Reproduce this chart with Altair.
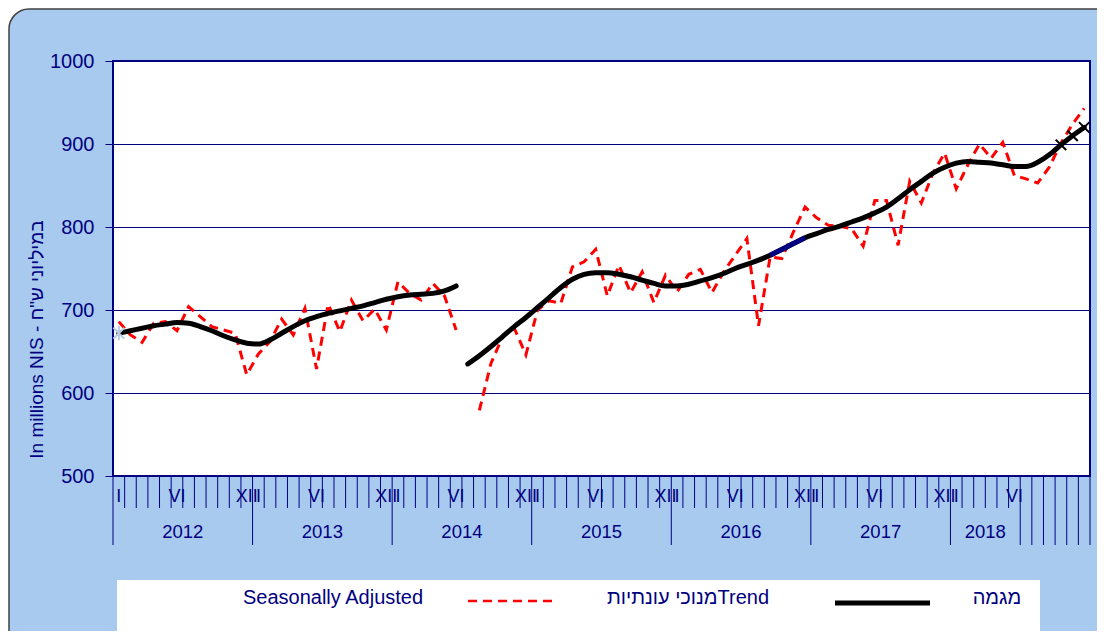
import altair as alt
import pandas as pd

NAVY = "#000080"
FONT = "Liberation Sans"

# ---------------- data ----------------
years = [2012, 2013, 2014, 2015, 2016, 2017, 2018]
roman = {0: "I", 5: "VI", 11: "XII"}
n_months = 84  # Jan 2012 .. Dec 2018

# Seasonally adjusted (red dashed), two segments (series break in 2014)
sa_a = [686, 670, 661, 684, 686, 675, 704, 692, 680, 676, 672, 622, 647, 662, 689,
        670, 702, 629, 707, 674, 712, 687, 701, 676, 734, 720, 712, 732, 717, 676]   # i=0..29
sa_b = [579, 636, 668, 678, 646, 700, 711, 708, 752, 758, 773, 717, 754, 721, 746,
        709, 742, 722, 743, 749, 721, 746, 766, 786, 681, 764, 762, 794, 824, 811,
        802, 801, 798, 777, 832, 832, 778, 855, 829, 865, 889, 846, 875, 900, 883,
        902, 862, 858, 853, 872, 901, 924, 943]                                       # i=31..83

# Trend (black), two segments
trend_a = [672, 675, 678, 681, 683, 685, 684, 680, 675, 669, 664, 660, 659, 664, 672,
           680, 687, 692, 696, 699, 702, 705, 709, 713, 716, 718, 719, 720, 723, 729]  # i=0..29
trend_b = [635, 645, 656, 668, 680, 691, 703, 715, 727, 737, 743, 745, 745, 743, 740,
           736, 732, 729, 729, 731, 735, 739, 744, 750, 755, 760, 766, 773, 780, 787,
           792, 797, 801, 806, 811, 817, 824, 834, 845, 855, 865, 872, 877, 879, 878,
           877, 875, 873, 873, 878, 887, 899, 910, 920]                                 # i=30..83

y_ticks = [500, 600, 700, 800, 900, 1000]

legend_sa = "Seasonally Adjusted"
legend_mid = "מנוכי עונתיותTrend"
legend_trend = "מגמה"
y_title = 'In millions NIS - במיליוני ש"ח'

# ---------------- tables ----------------
sa_df = pd.DataFrame(
    [{"i": k, "v": v, "seg": "a"} for k, v in enumerate(sa_a)]
    + [{"i": 31 + k, "v": v, "seg": "b"} for k, v in enumerate(sa_b)]
)
tr_df = pd.DataFrame(
    [{"i": k, "v": v, "seg": "a"} for k, v in enumerate(trend_a)]
    + [{"i": 30 + k, "v": v, "seg": "b"} for k, v in enumerate(trend_b)]
)
blue_df = tr_df[(tr_df.i >= 56) & (tr_df.i <= 59)]
star_df = tr_df[tr_df.i == 0]
x_df = tr_df[tr_df.i >= 81]

bounds = [k - 0.5 for k in range(n_months + 1)]
long_b = [b for k, b in enumerate(bounds) if (k % 12 == 0 and k <= 72) or k >= 78]
short_b = [b for b in bounds if b not in long_b]
short_df = pd.DataFrame({"b": short_b})
long_df = pd.DataFrame({"b": long_b})

mon_rows = []
for k in range(78):
    if k % 12 in roman:
        mon_rows.append({"i": k, "lab": roman[k % 12]})
mon_df = pd.DataFrame(mon_rows)
year_centers = [12 * j + 5.5 for j in range(6)] + [74.5]
year_df = pd.DataFrame({"i": year_centers, "lab": [str(y) for y in years]})

one = pd.DataFrame({"k": [0]})

# ---------------- encodings ----------------
xs = alt.Scale(domain=[-0.5, n_months - 0.5], nice=False, zero=False)
X = alt.X("i:Q", scale=xs, axis=None)
Y = alt.Y(
    "v:Q",
    scale=alt.Scale(domain=[500, 1000], nice=False, zero=False),
    axis=alt.Axis(
        values=y_ticks, format="d", grid=True, gridColor=NAVY, gridWidth=1,
        domain=False, ticks=True, tickColor=NAVY, tickSize=8, tickWidth=1,
        labelFont=FONT, labelFontSize=20, labelColor=NAVY, labelPadding=11,
        title=y_title, titleFont=FONT, titleFontSize=19, titleFontWeight="normal",
        titleColor=NAVY, titleX=-77, titleY=278, titleAngle=270,
        titleAlign="center", titleBaseline="middle",
    ),
)

W, H = 977, 415

# frame decorations (outer rounded panel)
corner_mask = alt.Chart(one).mark_rect(
    filled=False, stroke="white", strokeWidth=30, cornerRadius=35
).encode(x=alt.value(-119), x2=alt.value(1200), y=alt.value(-67), y2=alt.value(800))
outline = alt.Chart(one).mark_rect(
    filled=False, stroke="#404040", strokeWidth=1.5, cornerRadius=20
).encode(x=alt.value(-104), x2=alt.value(1200), y=alt.value(-52), y2=alt.value(800))

# x axis (multi-level category look)
short_ticks = alt.Chart(short_df).mark_rule(color=NAVY, strokeWidth=1).encode(
    x=alt.X("b:Q", scale=xs, axis=None), y=alt.value(H), y2=alt.value(H + 32))
long_ticks = alt.Chart(long_df).mark_rule(color=NAVY, strokeWidth=1).encode(
    x=alt.X("b:Q", scale=xs, axis=None), y=alt.value(H), y2=alt.value(H + 69))
mon_text = alt.Chart(mon_df).mark_text(
    font=FONT, fontSize=18, color=NAVY, baseline="middle", align="center"
).encode(x=X, y=alt.value(H + 21), text="lab:N")
year_text = alt.Chart(year_df).mark_text(
    font=FONT, fontSize=18.5, color=NAVY, baseline="middle", align="center"
).encode(x=X, y=alt.value(H + 56), text="lab:N")

# data lines
sa_line = alt.Chart(sa_df).mark_line(
    color="#FF0000", strokeWidth=3, strokeDash=[9, 6]
).encode(x=X, y=Y, detail="seg:N")
tr_line = alt.Chart(tr_df).mark_line(
    color="black", strokeWidth=5, interpolate="monotone", strokeCap="round"
).encode(x=X, y=Y, detail="seg:N")
blue_line = alt.Chart(blue_df).mark_line(
    color=NAVY, strokeWidth=5, interpolate="monotone"
).encode(x=X, y=Y)
star_pt = alt.Chart(star_df).mark_point(
    shape="M-1,-1L1,1M1,-1L-1,1M0,-1.3L0,1.3", filled=False,
    stroke="#B8CCE4", strokeWidth=2, size=120, opacity=1
).encode(x=X, y=Y)
x_pts = alt.Chart(x_df).mark_point(
    shape="M-1,-1L1,1M1,-1L-1,1", filled=False,
    stroke="black", strokeWidth=2, size=110, opacity=1
).encode(x=X, y=Y)

# legend (custom, as in the original)
leg_box = alt.Chart(one).mark_rect(fill="white").encode(
    x=alt.value(4), x2=alt.value(927), y=alt.value(519), y2=alt.value(580))
leg_t1 = alt.Chart(one).mark_text(
    font=FONT, fontSize=20, color=NAVY, align="center", baseline="middle"
).encode(x=alt.value(220), y=alt.value(537), text=alt.value(legend_sa))
leg_red = alt.Chart(one).mark_rule(color="#FF0000", strokeWidth=2.5, strokeDash=[9, 6]).encode(
    x=alt.value(355), x2=alt.value(440), y=alt.value(540))
leg_t2 = alt.Chart(one).mark_text(
    font=FONT, fontSize=20, color=NAVY, align="center", baseline="middle"
).encode(x=alt.value(575), y=alt.value(537), text=alt.value(legend_mid))
leg_blk = alt.Chart(one).mark_rule(color="black", strokeWidth=5).encode(
    x=alt.value(722), x2=alt.value(817), y=alt.value(542))
leg_t3 = alt.Chart(one).mark_text(
    font=FONT, fontSize=20, color=NAVY, align="center", baseline="middle"
).encode(x=alt.value(884), y=alt.value(537), text=alt.value(legend_trend))

chart = alt.layer(
    corner_mask, outline,
    sa_line, tr_line, blue_line, star_pt, x_pts,
    short_ticks, long_ticks, mon_text, year_text,
    leg_box, leg_t1, leg_red, leg_t2, leg_blk, leg_t3,
).properties(
    width=W, height=H,
    background="#A8CAEE",
    autosize=alt.AutoSizeParams(type="none"),
    padding={"left": 105, "top": 53, "right": 7, "bottom": 155},
).configure_view(
    fill="white", stroke=NAVY, strokeWidth=2
)

chart.save("out.html", embed_options={"renderer": "svg", "actions": False})
